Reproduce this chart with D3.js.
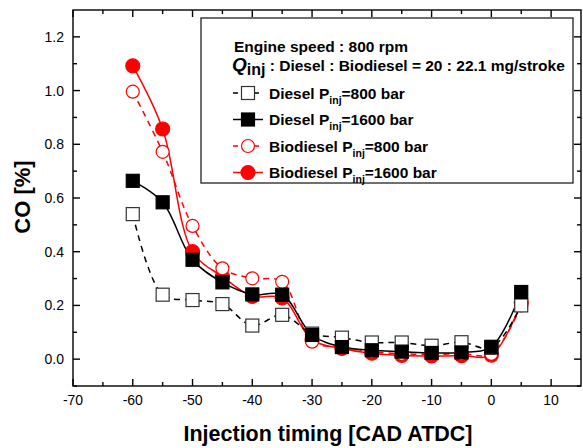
<!DOCTYPE html>
<html>
  <head>
    <meta charset="utf-8" />
    <title>CO vs injection timing</title>
    <script src="https://d3js.org/d3.v7.min.js"></script>
    <style>
      body { margin: 0; background: white; }
      text { font-family: "Liberation Sans", Arial, sans-serif; }
    </style>
  </head>
  <body>
    <svg width="583" height="448" id="chart"></svg>

    <script>
      // injection timing (x) and CO values for each case
      var timing = [-60, -55, -50, -45, -40, -35, -30, -25, -20, -15, -10, -5, 0, 5];
      var diesel800 = [0.54, 0.24, 0.22, 0.205, 0.125, 0.165, 0.095, 0.08, 0.062, 0.062, 0.05, 0.063, 0.042, 0.20];
      var diesel1600 = [0.664, 0.584, 0.37, 0.286, 0.241, 0.24, 0.09, 0.045, 0.033, 0.028, 0.023, 0.025, 0.046, 0.25];
      var bio800 = [0.996, 0.772, 0.496, 0.338, 0.301, 0.288, 0.065, 0.045, 0.028, 0.02, 0.018, 0.02, 0.02, 0.20];
      var bio1600 = [1.092, 0.857, 0.40, 0.307, 0.234, 0.228, 0.072, 0.04, 0.022, 0.014, 0.012, 0.013, 0.015, 0.21];

      var xTicks = [-70, -60, -50, -40, -30, -20, -10, 0, 10];
      var yTicks = [0.0, 0.2, 0.4, 0.6, 0.8, 1.0, 1.2];

      var svg = d3.select("#chart");
      // plot frame (note: "top" is reserved on window, so use other names)
      var pLeft = 73, pRight = 581, pTop = 10, pBottom = 386;

      var x = d3.scaleLinear().domain([-70, 15]).range([pLeft, pRight]);
      var y = d3.scaleLinear().domain([-0.1, 1.3]).range([pBottom, pTop]);

      // series: drawn bottom to top
      var series = [
        { name: "bio1600", values: bio1600, color: "red", dash: null, shape: "circle", fill: "red" },
        { name: "bio800", values: bio800, color: "red", dash: "6,5", shape: "circle", fill: "white" },
        { name: "diesel800", values: diesel800, color: "black", dash: "6,5", shape: "square", fill: "white" },
        { name: "diesel1600", values: diesel1600, color: "black", dash: null, shape: "square", fill: "black" }
      ];

      var line = d3.line()
          .x(function(d) { return x(d[0]); })
          .y(function(d) { return y(d[1]); })
          .curve(d3.curveCatmullRom.alpha(0.5));

      // lines first
      series.forEach(function(s) {
        var pts = timing.map(function(t, i) { return [t, s.values[i]]; });
        svg.append("path")
          .attr("d", line(pts))
          .attr("fill", "none")
          .attr("stroke", s.color)
          .attr("stroke-width", 1.5)
          .attr("stroke-dasharray", s.dash);
      });

      function drawMarker(g, s, cx, cy) {
        if (s.shape == "circle") {
          g.append("circle")
            .attr("cx", cx).attr("cy", cy).attr("r", s.fill == "white" ? 6.5 : 7)
            .attr("fill", s.fill)
            .attr("stroke", s.color)
            .attr("stroke-width", 1.2);
        } else {
          g.append("rect")
            .attr("x", cx - 6.5).attr("y", cy - 6.5)
            .attr("width", 13).attr("height", 13)
            .attr("fill", s.fill)
            .attr("stroke", s.fill == "white" ? "#333" : "black")
            .attr("stroke-width", 1.2);
        }
      }

      // markers
      series.forEach(function(s) {
        var g = svg.append("g");
        timing.forEach(function(t, i) {
          drawMarker(g, s, x(t), y(s.values[i]));
        });
      });

      // axes, ticks pointing inward on all four sides
      var xMinor = d3.range(-65, 15, 10);
      var yMinor = [-0.1, 0.1, 0.3, 0.5, 0.7, 0.9, 1.1];

      var axes = svg.append("g").attr("stroke", "black").attr("stroke-width", 1.4);
      axes.append("rect")
        .attr("x", pLeft).attr("y", pTop)
        .attr("width", pRight - pLeft).attr("height", pBottom - pTop)
        .attr("fill", "none");

      xTicks.forEach(function(t) {
        axes.append("line").attr("x1", x(t)).attr("x2", x(t)).attr("y1", pBottom).attr("y2", pBottom - 7);
        axes.append("line").attr("x1", x(t)).attr("x2", x(t)).attr("y1", pTop).attr("y2", pTop + 7);
      });
      xMinor.forEach(function(t) {
        axes.append("line").attr("x1", x(t)).attr("x2", x(t)).attr("y1", pBottom).attr("y2", pBottom - 4);
        axes.append("line").attr("x1", x(t)).attr("x2", x(t)).attr("y1", pTop).attr("y2", pTop + 4);
      });
      yTicks.forEach(function(v) {
        axes.append("line").attr("x1", pLeft).attr("x2", pLeft + 7).attr("y1", y(v)).attr("y2", y(v));
        axes.append("line").attr("x1", pRight).attr("x2", pRight - 7).attr("y1", y(v)).attr("y2", y(v));
      });
      yMinor.forEach(function(v) {
        axes.append("line").attr("x1", pLeft).attr("x2", pLeft + 4).attr("y1", y(v)).attr("y2", y(v));
        axes.append("line").attr("x1", pRight).attr("x2", pRight - 4).attr("y1", y(v)).attr("y2", y(v));
      });

      // tick labels
      svg.selectAll(".xlab").data(xTicks).enter().append("text")
        .attr("x", function(d) { return x(d); })
        .attr("y", 405)
        .attr("text-anchor", "middle")
        .style("font-size", "14px")
        .text(function(d) { return d; });

      svg.selectAll(".ylab").data(yTicks).enter().append("text")
        .attr("x", 64)
        .attr("y", function(d) { return y(d) + 5; })
        .attr("text-anchor", "end")
        .style("font-size", "14px")
        .text(function(d) { return d.toFixed(1); });

      // axis titles
      svg.append("text")
        .attr("x", 328).attr("y", 441)
        .attr("text-anchor", "middle")
        .style("font-size", "21.5px").style("font-weight", "bold")
        .text("Injection timing [CAD ATDC]");

      svg.append("text")
        .attr("transform", "translate(30,197) rotate(-90)")
        .attr("text-anchor", "middle")
        .style("font-size", "22px").style("font-weight", "bold")
        .text("CO [%]");

      // legend box
      var leg = svg.append("g");
      leg.append("rect")
        .attr("x", 201).attr("y", 18).attr("width", 372).attr("height", 165)
        .attr("fill", "white").attr("stroke", "#222").attr("stroke-width", 1.3);

      leg.append("text")
        .attr("x", 234).attr("y", 52)
        .style("font-size", "15.5px").style("font-weight", "bold")
        .text("Engine speed : 800 rpm");

      var q = leg.append("text")
        .attr("x", 232).attr("y", 71)
        .style("font-weight", "bold");
      q.append("tspan").style("font-size", "19px").style("font-style", "italic").text("Q");
      q.append("tspan").attr("dy", 4).style("font-size", "16px").text("inj");
      q.append("tspan").attr("dy", -4).style("font-size", "15.5px").text(" : Diesel : Biodiesel = 20 : 22.1 mg/stroke");

      var legItems = [
        { s: series[2], label: "Diesel P", val: "=800 bar" },
        { s: series[3], label: "Diesel P", val: "=1600 bar" },
        { s: series[1], label: "Biodiesel P", val: "=800 bar" },
        { s: series[0], label: "Biodiesel P", val: "=1600 bar" }
      ];

      legItems.forEach(function(item, i) {
        var cy = 93 + i * 26.5;
        leg.append("line")
          .attr("x1", 233).attr("x2", 263).attr("y1", cy).attr("y2", cy)
          .attr("stroke", item.s.color).attr("stroke-width", 1.5)
          .attr("stroke-dasharray", item.s.dash ? "5,5.5" : null);
        drawMarker(leg, item.s, 248, cy);
        var t = leg.append("text")
          .attr("x", 269).attr("y", cy + 5.5)
          .style("font-size", "15.5px").style("font-weight", "bold");
        t.append("tspan").text(item.label);
        t.append("tspan").attr("dy", 5).style("font-size", "10.5px").text("inj");
        t.append("tspan").attr("dy", -5).text(item.val);
      });
    </script>
  </body>
</html>
